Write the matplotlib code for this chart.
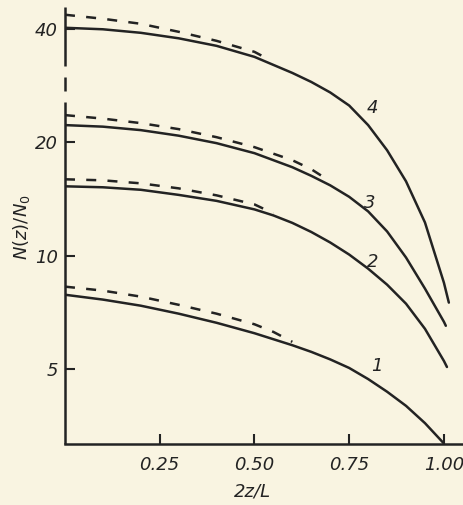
import matplotlib
matplotlib.use("Agg")
import matplotlib.pyplot as plt
from matplotlib.ticker import NullLocator, FixedLocator

# ---- data (N(z)/N0 vs 2z/L) ----
c1_x = [0.0, 0.1, 0.2, 0.3, 0.4, 0.5, 0.6, 0.65, 0.7, 0.75, 0.8, 0.85, 0.9, 0.95, 1.0]
c1_y = [7.87, 7.64, 7.36, 7.01, 6.63, 6.22, 5.78, 5.55, 5.30, 5.03, 4.70, 4.35, 3.99, 3.59, 3.17]
c1d_x = [0.0, 0.1, 0.2, 0.3, 0.4, 0.5, 0.55, 0.6]
c1d_y = [8.27, 8.07, 7.78, 7.40, 7.01, 6.57, 6.27, 5.90]

c2_x = [0.0, 0.1, 0.2, 0.3, 0.4, 0.5, 0.55, 0.6, 0.65, 0.7, 0.75, 0.8, 0.85, 0.9, 0.95, 1.0, 1.008]
c2_y = [15.27, 15.18, 14.95, 14.49, 13.97, 13.26, 12.78, 12.21, 11.55, 10.83, 10.06, 9.23, 8.37,
        7.45, 6.39, 5.25, 5.06]
c2d_x = [0.0, 0.1, 0.2, 0.3, 0.4, 0.5, 0.55]
c2d_y = [15.94, 15.84, 15.55, 15.08, 14.45, 13.67, 12.94]

c3_x = [0.0, 0.1, 0.2, 0.3, 0.4, 0.5, 0.6, 0.65, 0.7, 0.75, 0.8, 0.85, 0.9, 0.95, 1.0, 1.005]
c3_y = [22.20, 21.99, 21.53, 20.81, 19.88, 18.70, 17.16, 16.28, 15.36, 14.32, 13.10, 11.59,
        9.88, 8.17, 6.67, 6.51]
c3d_x = [0.0, 0.1, 0.2, 0.3, 0.4, 0.5, 0.6, 0.65, 0.7]
c3d_y = [23.60, 23.10, 22.47, 21.66, 20.62, 19.40, 17.91, 16.95, 15.74]

c4_x = [0.0, 0.1, 0.2, 0.3, 0.4, 0.5, 0.6, 0.65, 0.7, 0.75, 0.8, 0.85, 0.9, 0.95, 1.0, 1.013]
c4_y = [40.25, 39.88, 39.03, 37.74, 36.04, 33.69, 30.54, 28.90, 27.10, 25.02, 22.20, 19.04,
        15.74, 12.24, 8.47, 7.50]
c4d_x = [0.0, 0.1, 0.2, 0.3, 0.4, 0.5, 0.52]
c4d_y = [43.59, 42.53, 41.24, 39.27, 37.16, 34.74, 33.90]

curve_labels = ["1", "2", "3", "4"]
label_x = [0.823, 0.813, 0.805, 0.810]
label_y = [5.1, 9.6, 13.8, 24.6]

x_ticks = [0.25, 0.50, 0.75, 1.00]
x_tick_labels = ["0.25", "0.50", "0.75", "1.00"]
y_ticks = [5, 10, 20, 40]
y_tick_labels = ["5", "10", "20", "40"]

# ---- styling ----
bg = "#f9f4e1"
ink = "#232323"
fs = 13

fig = plt.figure(figsize=(4.64, 5.05), dpi=100, facecolor=bg)
ax = fig.add_axes([65 / 464, 61 / 505, 1 - 65 / 464, (444 - 7) / 505])
ax.set_facecolor(bg)
ax.set_yscale("log")
ax.set_xlim(0, 1.053)
ax.set_ylim(3.16, 45.7)

lw = 1.8
dash = (0, (4, 4.5))
for sx, sy, dx, dy in [(c1_x, c1_y, c1d_x, c1d_y), (c2_x, c2_y, c2d_x, c2d_y),
                       (c3_x, c3_y, c3d_x, c3d_y), (c4_x, c4_y, c4d_x, c4d_y)]:
    ax.plot(sx, sy, color=ink, lw=lw, solid_capstyle="round", solid_joinstyle="round")
    ax.plot(dx, dy, color=ink, lw=lw, linestyle=dash)

for t, lx, ly in zip(curve_labels, label_x, label_y):
    ax.text(lx, ly, t, fontsize=fs, style="italic", color=ink, ha="center", va="center")

for s in ["top", "right", "left"]:
    ax.spines[s].set_visible(False)
ax.spines["bottom"].set_linewidth(lw)
ax.spines["bottom"].set_color(ink)

# broken left axis
ytr = ax.get_yaxis_transform()
for y0, y1 in [(3.16, 25.6), (27.4, 29.8), (31.9, 45.7)]:
    ax.plot([0, 0], [y0, y1], color=ink, lw=lw, transform=ytr, clip_on=False,
            solid_capstyle="butt")

ax.xaxis.set_major_locator(FixedLocator(x_ticks))
ax.set_xticklabels(x_tick_labels)
ax.yaxis.set_major_locator(FixedLocator(y_ticks))
ax.yaxis.set_minor_locator(NullLocator())
ax.set_yticklabels(y_tick_labels)
ax.tick_params(axis="both", direction="in", length=7, width=1.5, color=ink,
               labelcolor=ink, labelsize=fs)
ax.tick_params(axis="x", pad=9)
ax.tick_params(axis="y", pad=5)
for lab in ax.get_xticklabels() + ax.get_yticklabels():
    lab.set_style("italic")

fig.text(252 / 464, 1 - 491 / 505, "2z/L", fontsize=fs, style="italic", color=ink,
         ha="center", va="center")
fig.text(22 / 464, 1 - 227 / 505, r"$N(z)/N_0$", fontsize=fs, color=ink,
         rotation=90, ha="center", va="center")

fig.savefig("out.png", dpi=100, facecolor=bg)
